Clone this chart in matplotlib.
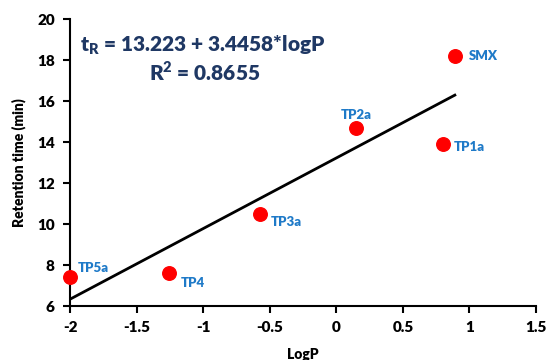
import matplotlib
matplotlib.use("Agg")
import matplotlib.pyplot as plt
import numpy as np

plt.rcParams['font.family'] = ['Lato', 'DejaVu Sans']
plt.rcParams['font.weight'] = 'heavy'
plt.rcParams['mathtext.fontset'] = 'custom'
plt.rcParams['mathtext.bf'] = 'Lato:heavy'
plt.rcParams['mathtext.rm'] = 'Lato:heavy'

# data
names = ['TP5a', 'TP4', 'TP3a', 'TP2a', 'TP1a', 'SMX']
logp = [-2.0, -1.26, -0.57, 0.15, 0.80, 0.89]
tr = [7.43, 7.60, 10.49, 14.67, 13.90, 18.21]
intercept = 13.223
slope = 3.4458
r2 = 0.8655

# label offsets in pixels
offsets = {'TP5a': (8, 9, 'left'), 'TP4': (12, -10, 'left'), 'TP3a': (10, -8, 'left'),
           'TP2a': (0, 13, 'center'), 'TP1a': (11, -3, 'left'), 'SMX': (14, 0, 'left')}

fig = plt.figure(figsize=(5.47, 3.6), dpi=100)
ax = fig.add_axes([0.128, 0.15, 0.852, 0.797])

xfit = np.array([min(logp), max(logp)])
ax.plot(xfit, intercept + slope * xfit, color='black', lw=2, zorder=2)
ax.scatter(logp, tr, s=95, color='#FF0000', zorder=3, clip_on=False)

for n, x, y in zip(names, logp, tr):
    dx, dy, ha = offsets[n]
    ax.annotate(n, (x, y), xytext=(dx, dy), textcoords='offset pixels',
                ha=ha, va='center', color='#1F7AC8', fontsize=9.5, fontweight='heavy')

ax.set_xlim(-2, 1.5)
ax.set_ylim(6, 20)
ax.set_xticks(np.arange(-2, 1.51, 0.5))
ax.set_xticklabels(['-2', '-1.5', '-1', '-0.5', '0', '0.5', '1', '1.5'])
ax.set_yticks(range(6, 21, 2))
ax.spines['top'].set_visible(False)
ax.spines['right'].set_visible(False)
for s in ['left', 'bottom']:
    ax.spines[s].set_linewidth(1.5)
ax.tick_params(direction='out', length=5, width=1.5, labelsize=11, pad=6)
ax.set_xlabel('LogP', fontsize=10, fontweight='heavy', labelpad=10)
ax.set_ylabel('Retention time (min)', fontsize=10, fontweight='heavy', labelpad=8)

fig.text(0.37, 0.875, r'$\mathbf{t_R}$ = %.3f + %.4f*logP' % (intercept, slope),
         ha='center', va='center', fontsize=15, color='#1F3864', fontweight='heavy')
fig.text(0.375, 0.80, r'R$^\mathbf{2}$ = %.4f' % r2,
         ha='center', va='center', fontsize=15, color='#1F3864', fontweight='heavy')

fig.savefig('out.png', dpi=100)
